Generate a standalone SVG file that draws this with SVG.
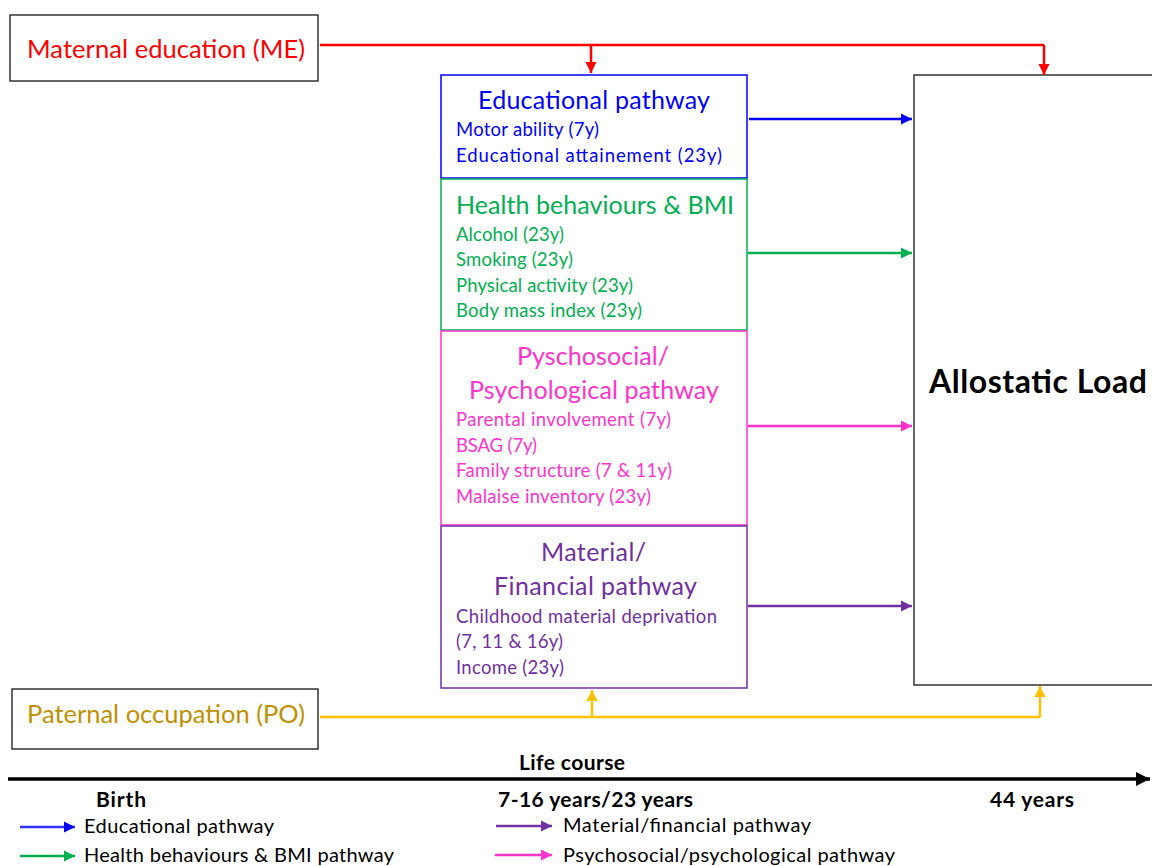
<svg xmlns="http://www.w3.org/2000/svg" width="1152" height="866" viewBox="0 0 1152 866">
<style>
  text { font-family: Lato, "Open Sans", "Liberation Sans", sans-serif; }
  .src { fill: #fff; stroke: #333; stroke-width: 1.5; }
  .title { font-size: 25px; }
  .item { font-size: 18.5px; }
  .bold { font-weight: bold; fill: #000; font-size: 21px; }
  .leg { font-size: 20px; fill: #000; }
  .conn line, .conn polyline { fill: none; stroke-width: 2.5; }
</style>
<defs>
  <marker id="ahRed" viewBox="0 0 10 10" refX="10" refY="5" markerWidth="4.5" markerHeight="4.5" orient="auto" markerUnits="strokeWidth"><path d="M0,0 L10,5 L0,10 z" fill="#FF0000"/></marker>
  <marker id="ahYel" viewBox="0 0 10 10" refX="10" refY="5" markerWidth="4.5" markerHeight="4.5" orient="auto" markerUnits="strokeWidth"><path d="M0,0 L10,5 L0,10 z" fill="#FFC000"/></marker>
  <marker id="ahBlk" viewBox="0 0 10 10" refX="10" refY="5" markerWidth="4" markerHeight="4" orient="auto" markerUnits="strokeWidth"><path d="M0,0 L10,5 L0,10 z" fill="#000"/></marker>
  <marker id="ahB" viewBox="0 0 10 10" refX="10" refY="5" markerWidth="4.5" markerHeight="4.5" orient="auto" markerUnits="strokeWidth"><path d="M0,0 L10,5 L0,10 z" fill="#0000FF"/></marker>
  <marker id="ahG" viewBox="0 0 10 10" refX="10" refY="5" markerWidth="4.5" markerHeight="4.5" orient="auto" markerUnits="strokeWidth"><path d="M0,0 L10,5 L0,10 z" fill="#00B050"/></marker>
  <marker id="ahP" viewBox="0 0 10 10" refX="10" refY="5" markerWidth="4.5" markerHeight="4.5" orient="auto" markerUnits="strokeWidth"><path d="M0,0 L10,5 L0,10 z" fill="#FF33CC"/></marker>
  <marker id="ahM" viewBox="0 0 10 10" refX="10" refY="5" markerWidth="4.5" markerHeight="4.5" orient="auto" markerUnits="strokeWidth"><path d="M0,0 L10,5 L0,10 z" fill="#7030A0"/></marker>
</defs>

<rect width="1152" height="866" fill="#fff"/>

<!-- exposures -->
<g id="maternal-education">
  <rect class="src" x="10" y="15" width="308" height="66"/>
  <text x="27" y="58" font-size="25.5" fill="#FF0000" textLength="278">Maternal education (ME)</text>
</g>
<g id="paternal-occupation">
  <rect class="src" x="12" y="689" width="306" height="60"/>
  <text x="27" y="723" font-size="25.5" fill="#BF9000" textLength="278">Paternal occupation (PO)</text>
</g>

<!-- pathway blocks -->
<g id="educational-pathway">
  <rect x="441" y="75" width="306" height="103" fill="#fff" stroke="#0000FF" stroke-width="1.5"/>
  <text class="title" x="478" y="109" fill="#0000FF" textLength="232">Educational pathway</text>
  <text class="item" x="456" y="136" fill="#0000FF" textLength="143">Motor ability (7y)</text>
  <text class="item" x="456" y="162" fill="#0000FF" textLength="266">Educational attainement (23y)</text>
</g>
<g id="health-behaviours">
  <rect x="441" y="179" width="306" height="151" fill="#fff" stroke="#00B050" stroke-width="1.5"/>
  <text class="title" x="456" y="214" fill="#00B050" textLength="278">Health behaviours &amp; BMI</text>
  <text class="item" x="456" y="241" fill="#00B050" textLength="108">Alcohol (23y)</text>
  <text class="item" x="456" y="266" fill="#00B050" textLength="117">Smoking (23y)</text>
  <text class="item" x="456" y="292" fill="#00B050" textLength="177">Physical activity (23y)</text>
  <text class="item" x="456" y="317" fill="#00B050" textLength="186">Body mass index (23y)</text>
</g>
<g id="psychosocial-pathway">
  <rect x="441" y="331" width="306" height="194" fill="#fff" stroke="#FF33CC" stroke-width="1.5"/>
  <text class="title" x="517" y="365" fill="#FF33CC" textLength="152">Pyschosocial/</text>
  <text class="title" x="469" y="399" fill="#FF33CC" textLength="250">Psychological pathway</text>
  <text class="item" x="456" y="426" fill="#FF33CC" textLength="215">Parental involvement (7y)</text>
  <text class="item" x="456" y="452" fill="#FF33CC" textLength="81">BSAG (7y)</text>
  <text class="item" x="456" y="477" fill="#FF33CC" textLength="216">Family structure (7 &amp; 11y)</text>
  <text class="item" x="456" y="503" fill="#FF33CC" textLength="195">Malaise inventory (23y)</text>
</g>
<g id="material-pathway">
  <rect x="441" y="526" width="306" height="162" fill="#fff" stroke="#7030A0" stroke-width="1.5"/>
  <text class="title" x="541" y="561" fill="#7030A0" textLength="105">Material/</text>
  <text class="title" x="494" y="595" fill="#7030A0" textLength="203">Financial pathway</text>
  <text class="item" x="456" y="623" fill="#7030A0" textLength="261">Childhood material deprivation</text>
  <text class="item" x="456" y="648" fill="#7030A0" textLength="107">(7, 11 &amp; 16y)</text>
  <text class="item" x="456" y="674" fill="#7030A0" textLength="108">Income (23y)</text>
</g>

<!-- outcome -->
<g id="allostatic-load">
  <rect x="914" y="75" width="250" height="610" fill="#fff" stroke="#333" stroke-width="1.5"/>
  <text x="929" y="393" font-size="32" font-weight="bold" fill="#000" textLength="218">Allostatic Load</text>
</g>

<!-- connectors -->
<g id="connectors" class="conn">
  <polyline points="320,45 1044,45" stroke="#FF0000"/>
  <line x1="591" y1="45" x2="591" y2="73" stroke="#FF0000" marker-end="url(#ahRed)"/>
  <line x1="1044" y1="45" x2="1044" y2="75" stroke="#FF0000" marker-end="url(#ahRed)"/>

  <line x1="749" y1="119" x2="912" y2="119" stroke="#0000FF" marker-end="url(#ahB)"/>
  <line x1="748" y1="253" x2="912" y2="253" stroke="#00B050" stroke-width="2" marker-end="url(#ahG)"/>
  <line x1="748" y1="426" x2="912" y2="426" stroke="#FF33CC" stroke-width="2" marker-end="url(#ahP)"/>
  <line x1="748" y1="606" x2="912" y2="606" stroke="#7030A0" stroke-width="2" marker-end="url(#ahM)"/>

  <polyline points="320,717 1040,717" stroke="#FFC000"/>
  <line x1="592" y1="717" x2="592" y2="690" stroke="#FFC000" marker-end="url(#ahYel)"/>
  <line x1="1040" y1="717" x2="1040" y2="686" stroke="#FFC000" marker-end="url(#ahYel)"/>
</g>

<!-- life-course axis -->
<g id="timeline">
  <line x1="8" y1="779" x2="1150" y2="779" stroke="#000" stroke-width="3.5" marker-end="url(#ahBlk)"/>
  <text class="bold" x="519" y="770" textLength="106">Life course</text>
  <text class="bold" x="96" y="807" textLength="50">Birth</text>
  <text class="bold" x="498" y="807" textLength="195">7-16 years/23 years</text>
  <text class="bold" x="990" y="807" textLength="84">44 years</text>
</g>

<!-- key -->
<g id="legend">
  <line x1="20" y1="827" x2="75" y2="827" stroke="#3333FF" stroke-width="2.5" marker-end="url(#ahB)"/>
  <text class="leg" x="84" y="833" textLength="190">Educational pathway</text>
  <line x1="20" y1="856" x2="75" y2="856" stroke="#00B050" stroke-width="2.5" marker-end="url(#ahG)"/>
  <text class="leg" x="84" y="862" textLength="310">Health behaviours &amp; BMI pathway</text>
  <line x1="496" y1="826" x2="552" y2="826" stroke="#7030A0" stroke-width="2.5" marker-end="url(#ahM)"/>
  <text class="leg" x="563" y="832" textLength="248">Material/financial pathway</text>
  <line x1="495" y1="855" x2="552" y2="855" stroke="#FF33CC" stroke-width="2.5" marker-end="url(#ahP)"/>
  <text class="leg" x="563" y="862" textLength="332">Psychosocial/psychological pathway</text>
</g>
</svg>
